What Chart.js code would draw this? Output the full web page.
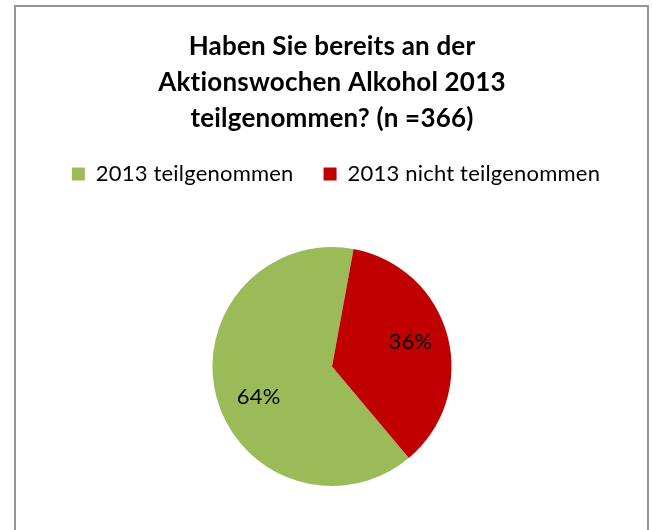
<!DOCTYPE html>
<html>
<head>
<meta charset="utf-8">
<script src="https://cdn.jsdelivr.net/npm/chart.js@4"></script>
<style>
  html, body { margin: 0; padding: 0; background: #fff; overflow: hidden; }
  #frame { position: absolute; left: 14px; top: 5px; width: 631px; height: 560px; border: 2px solid #959595; box-sizing: content-box; }
  #wrap { position: absolute; left: 0; top: 0; width: 652px; height: 530px; }
</style>
</head>
<body>
<div id="frame"></div>
<div id="wrap"><canvas id="cht" width="652" height="530"></canvas></div>
<script>
'use strict';
const categories = ['2013 teilgenommen', '2013 nicht teilgenommen'];
const shares = [64, 36];
const sliceColors = ['#9BBB59', '#C00000'];
const titleLines = ['Haben Sie bereits an der', 'Aktionswochen Alkohol 2013', 'teilgenommen? (n =366)'];

// percent labels placed at ~2/3 of the radius, like the original
const sliceLabels = {
    id: 'sliceLabels',
    afterDatasetsDraw(chart) {
        const ctx = chart.ctx;
        const meta = chart.getDatasetMeta(0);
        const nudge = [[4, 10], [1, -4]];
        ctx.save();
        ctx.font = '22px Lato';
        ctx.fillStyle = '#000';
        ctx.textAlign = 'center';
        ctx.textBaseline = 'middle';
        meta.data.forEach((arc, i) => {
            const p = arc.getProps(['x', 'y', 'startAngle', 'endAngle', 'outerRadius'], true);
            const mid = (p.startAngle + p.endAngle) / 2;
            const r = p.outerRadius * 0.67;
            ctx.fillText(shares[i] + '%', p.x + Math.cos(mid) * r + nudge[i][0], p.y + Math.sin(mid) * r + nudge[i][1]);
        });
        ctx.restore();
    }
};

// extra gap between legend and pie, and a touch of letter spacing (no ligatures)
const legendGap = {
    id: 'legendGap',
    beforeInit(chart) {
        const fit = chart.legend.fit;
        chart.legend.fit = function () {
            fit.bind(chart.legend)();
            this.height += 52;
        };
    },
    beforeDraw(chart) {
        chart.ctx.letterSpacing = '0.2px';
    }
};

new Chart(document.getElementById('cht'), {
    type: 'pie',
    data: {
        labels: categories,
        datasets: [{
            data: shares,
            backgroundColor: sliceColors,
            borderWidth: 0
        }]
    },
    options: {
        responsive: false,
        animation: false,
        devicePixelRatio: 1,
        rotation: 140,
        layout: { padding: { left: 12, right: 0, top: 0, bottom: 44 } },
        plugins: {
            title: {
                display: true,
                text: titleLines,
                color: '#000',
                font: { family: 'Lato', size: 26, weight: 'bold', lineHeight: '36px' },
                padding: { top: 29, bottom: -4 }
            },
            legend: {
                display: true,
                position: 'top',
                labels: {
                    color: '#000',
                    font: { family: 'Lato', size: 22 },
                    boxWidth: 13,
                    boxHeight: 13,
                    padding: 30
                }
            },
            tooltip: { enabled: false }
        }
    },
    plugins: [sliceLabels, legendGap]
});
</script>
</body>
</html>
